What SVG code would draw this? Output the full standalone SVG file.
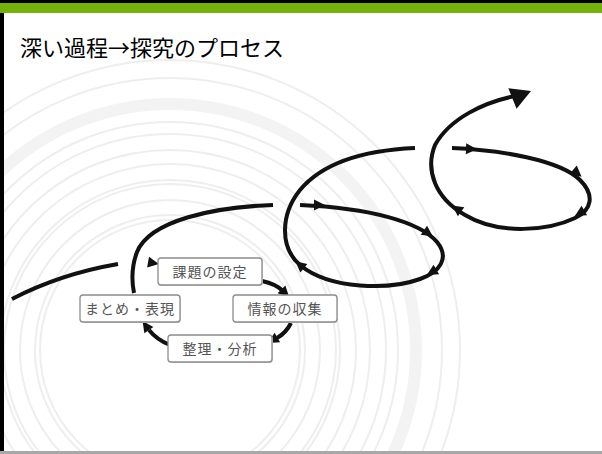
<svg xmlns="http://www.w3.org/2000/svg" width="602" height="454" viewBox="0 0 602 454">
  <style>
    .ring { fill: none; stroke: #eeeeee; stroke-width: 2; }
    .ring-thick { fill: none; stroke: #f3f3f3; stroke-width: 12; }
    .flow { fill: none; stroke: #111111; stroke-width: 4; stroke-linecap: butt; }
    .box { fill: #ffffff; stroke: #8c8c8c; stroke-width: 1.3; }
    .shadow { fill: #d6d6d6; }
    .label { font-family: "Noto Sans CJK JP", sans-serif; font-size: 14px; fill: #555555; text-anchor: middle; letter-spacing: 1px; }
    .title { font-family: "Noto Sans CJK JP", sans-serif; font-size: 22px; fill: #000000; }
    .ah { fill: #111111; }
  </style>
  <defs>
    <path id="ah" d="M6,0 L-5,-5.5 L-5,5.5 Z"/>
    <path id="bigah" d="M0,0 L-20,-11 L-20,11 Z"/>
  </defs>

  <rect x="0" y="0" width="602" height="454" fill="#ffffff"/>

  <g id="background-rings">
    <circle class="ring" cx="170" cy="350" r="130"/>
    <circle class="ring" cx="170" cy="350" r="135"/>
    <circle class="ring" cx="170" cy="350" r="150"/>
    <circle class="ring" cx="170" cy="350" r="166"/>
    <circle class="ring" cx="170" cy="350" r="170"/>
    <circle class="ring" cx="170" cy="350" r="186"/>
    <circle class="ring" cx="170" cy="350" r="200"/>
    <circle class="ring" cx="170" cy="350" r="216"/>
    <circle class="ring" cx="170" cy="350" r="228"/>
    <circle class="ring-thick" cx="170" cy="350" r="246"/>
    <circle class="ring" cx="170" cy="350" r="272"/>
    <circle class="ring" cx="170" cy="350" r="290"/>
  </g>

  <g id="frame">
    <rect x="0" y="0" width="602" height="3" fill="#000000"/>
    <rect x="0" y="3" width="602" height="10" fill="#74b10a"/>
    <rect x="0" y="13" width="4" height="441" fill="#000000"/>
    <rect x="0" y="451" width="602" height="3" fill="#a8a8a8"/>
  </g>

  <g id="title">
    <text class="title" x="20" y="56">深い過程→探究のプロセス</text>
  </g>

  <g id="connectors">
    <path class="flow" d="M12,299 Q60,274 118,264"/>
    <path class="flow" d="M273,205 C215,207 150,220 137,252 C131,268 132,283 134,293"/>
    <path class="flow" d="M300,205 C370,208 420,222 437,242 C450,258 440,272 420,279 C390,290 330,290 300,265 C280,248 280,215 300,190 C325,160 370,150 415,148"/>
    <path class="flow" d="M452,148 C500,150 560,160 580,180 C595,195 592,210 575,218 C550,230 500,236 465,215 C435,198 425,170 435,145 C450,118 485,102 515,96"/>
    <path class="flow" d="M262,281 Q276,284 283,291"/>
    <path class="flow" d="M291,323 Q286,333 277,338"/>
    <path class="flow" d="M170,345 Q157,340 149,330"/>

    <use href="#ah" class="ah" transform="translate(153,263) rotate(10)"/>
    <use href="#ah" class="ah" transform="translate(285,293) rotate(45)"/>
    <use href="#ah" class="ah" transform="translate(273,340) rotate(150)"/>
    <use href="#ah" class="ah" transform="translate(146,326) rotate(235)"/>

    <use href="#ah" class="ah" transform="translate(319,205) rotate(0)"/>
    <use href="#ah" class="ah" transform="translate(428,233) rotate(35)"/>
    <use href="#ah" class="ah" transform="translate(432,272) rotate(150)"/>
    <use href="#ah" class="ah" transform="translate(300,265) rotate(220)"/>

    <use href="#ah" class="ah" transform="translate(471,149) rotate(2)"/>
    <use href="#ah" class="ah" transform="translate(577,173) rotate(40)"/>
    <use href="#ah" class="ah" transform="translate(580,213) rotate(150)"/>
    <use href="#ah" class="ah" transform="translate(457,209) rotate(215)"/>
    <use href="#bigah" class="ah" transform="translate(531,91) rotate(-22)"/>
  </g>

  <g id="node-kadai">
    <rect class="shadow" x="159" y="259" width="104" height="27" rx="3"/>
    <rect class="box" x="158" y="258" width="104" height="27" rx="3"/>
    <text class="label" x="210" y="277">課題の設定</text>
  </g>
  <g id="node-joho">
    <rect class="shadow" x="234" y="296" width="104" height="27" rx="3"/>
    <rect class="box" x="233" y="295" width="104" height="27" rx="3"/>
    <text class="label" x="285" y="314">情報の収集</text>
  </g>
  <g id="node-matome">
    <rect class="shadow" x="81" y="296" width="100" height="27" rx="3"/>
    <rect class="box" x="80" y="295" width="100" height="27" rx="3"/>
    <text class="label" x="130" y="314">まとめ・表現</text>
  </g>
  <g id="node-seiri">
    <rect class="shadow" x="169" y="336" width="104" height="27" rx="3"/>
    <rect class="box" x="168" y="335" width="104" height="27" rx="3"/>
    <text class="label" x="220" y="354">整理・分析</text>
  </g>
</svg>
